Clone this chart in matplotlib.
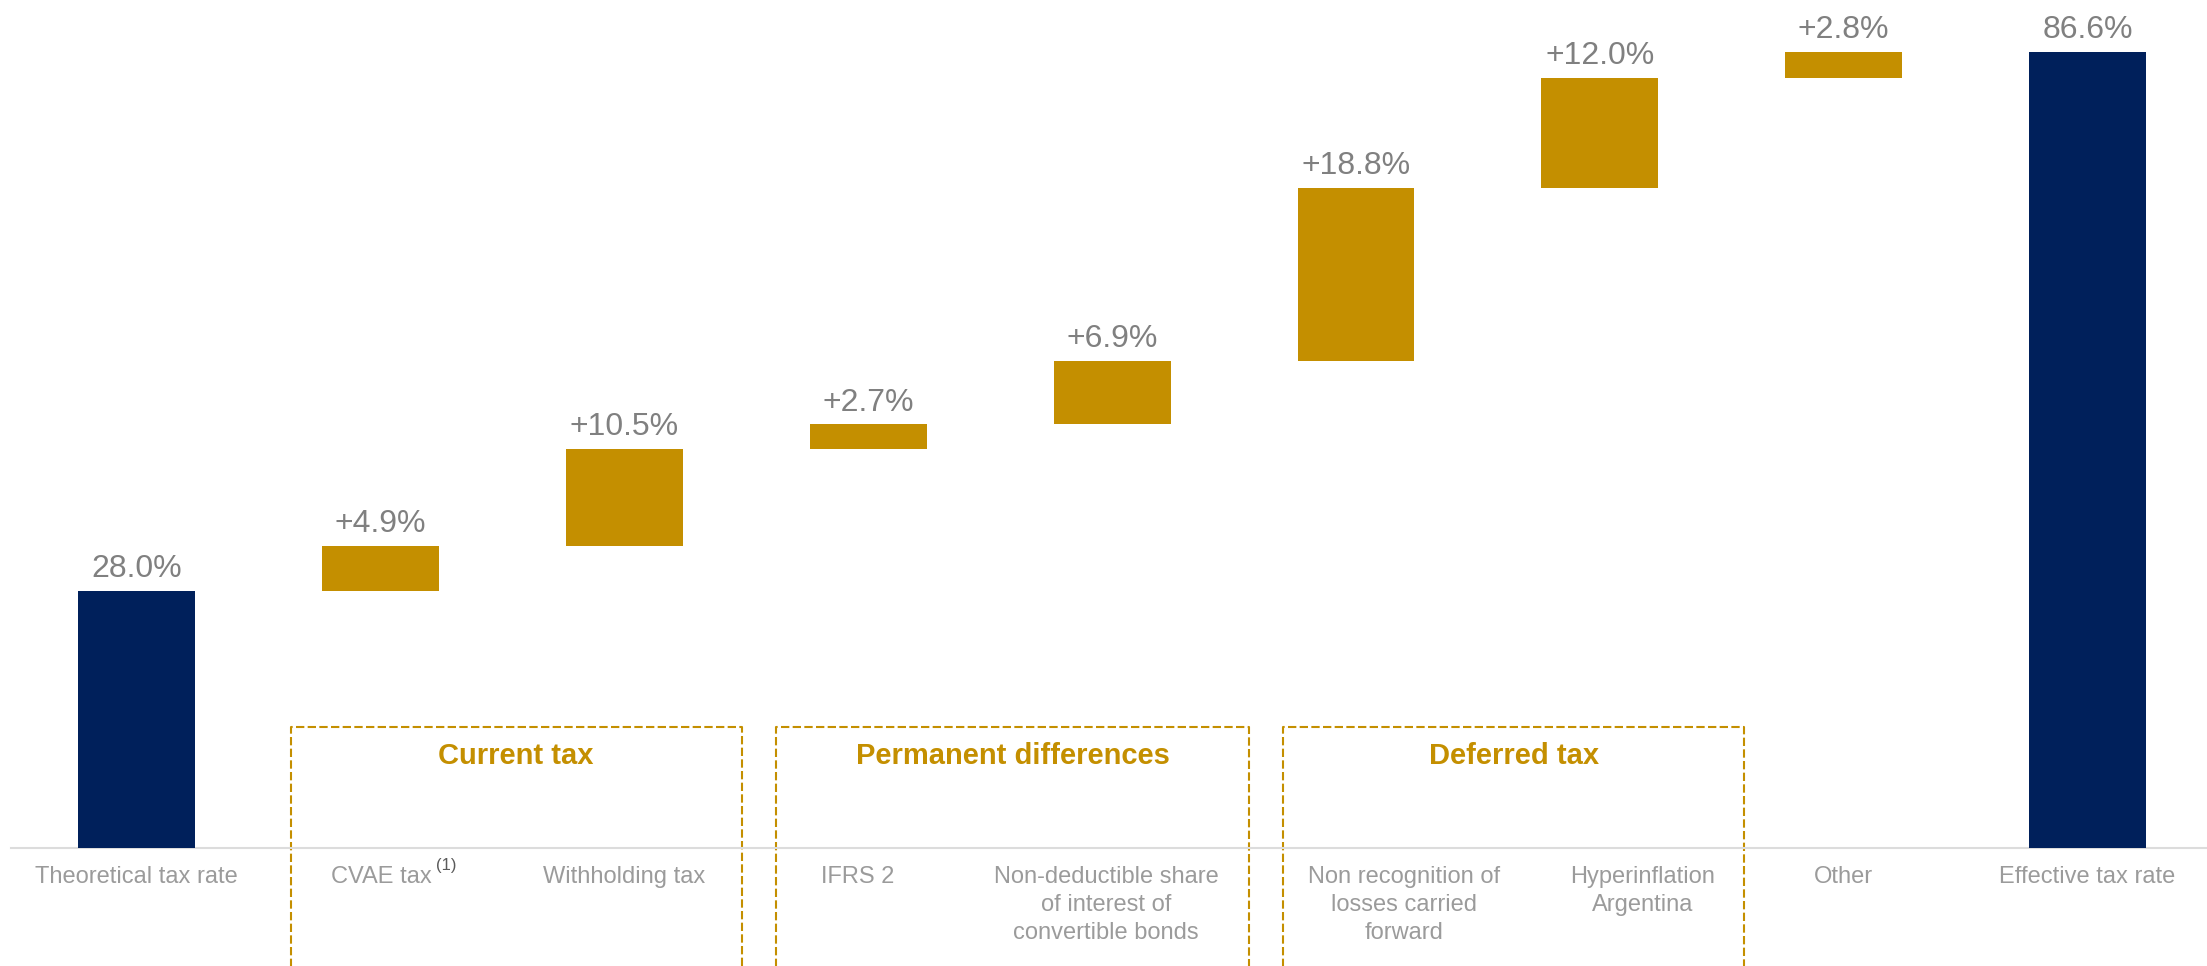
import numpy as np
import matplotlib
matplotlib.use("Agg")
import matplotlib.pyplot as plt

# tax rate bridge: theoretical -> effective
categories = [
    "Theoretical tax rate",
    "CVAE tax",
    "Withholding tax",
    "IFRS 2",
    "Non-deductible share\nof interest of\nconvertible bonds",
    "Non recognition of\nlosses carried\nforward",
    "Hyperinflation\nArgentina",
    "Other",
    "Effective tax rate",
]
values = [28.0, 4.9, 10.5, 2.7, 6.9, 18.8, 12.0, 2.8, 86.6]
is_total = [True, False, False, False, False, False, False, False, True]
value_labels = ["28.0%", "+4.9%", "+10.5%", "+2.7%", "+6.9%",
                "+18.8%", "+12.0%", "+2.8%", "86.6%"]

group_names = ["Current tax", "Permanent differences", "Deferred tax"]
# box edges in x data units (layout)
group_edges = [(0.631, 2.480), (2.623, 4.562), (4.702, 6.592)]
# horizontal nudge of the category labels, in points (layout)
label_dx = [0, 0, 0, -8, -4.5, 34.5, 31, 0, 0]

NAVY = "#00205B"
GOLD = "#C48F00"
VAL_GREY = "#808080"
CAT_GREY = "#9B9B9B"

plt.rcParams["font.family"] = ["Liberation Sans", "DejaVu Sans"]

fig = plt.figure(figsize=(22.07, 9.66), dpi=100)
ax = fig.add_axes([11 / 2207, 118 / 966, 1 - 11 / 2207, 848 / 966])

x = np.arange(len(values))
bottoms = []
running = 0.0
for v, tot in zip(values, is_total):
    if tot:
        bottoms.append(0.0)
        running = v
    else:
        bottoms.append(running)
        running += v
heights = values
colors = [NAVY if t else GOLD for t in is_total]

ax.bar(x, heights, bottom=bottoms, width=0.479, color=colors, zorder=3)

for xi, b, h, lab in zip(x, bottoms, heights, value_labels):
    ax.annotate(lab, (xi, b + h), xytext=(0, 5), textcoords="offset points",
                ha="center", va="bottom", fontsize=23, color=VAL_GREY)

for xi, cat, dx in zip(x, categories, label_dx):
    if cat == "CVAE tax":
        ax.annotate(cat, (xi, 0), xytext=(37, -13), textcoords="offset points",
                    ha="right", va="top", fontsize=17, color=CAT_GREY,
                    annotation_clip=False)
        ax.annotate("(1)", (xi, 0), xytext=(40, -7), textcoords="offset points",
                    ha="left", va="top", fontsize=12, color="#5a5a5a",
                    annotation_clip=False)
    else:
        ax.annotate(cat, (xi, 0), xytext=(dx, -13), textcoords="offset points",
                    ha="center", va="top", fontsize=17, color=CAT_GREY,
                    linespacing=1.35, annotation_clip=False)

# dashed group boxes, open at the bottom
box_top = 13.17
for name, (x0, x1) in zip(group_names, group_edges):
    ax.plot([x0, x0, x1, x1], [-20, box_top, box_top, -20], color=GOLD,
            lw=1.5, linestyle=(0, (4, 1.6)), clip_on=False, zorder=2)
    ax.text((x0 + x1) / 2, 10.0, name, ha="center", va="center",
            fontsize=21, fontweight="bold", color=GOLD)

ax.set_xlim(-0.516, 8.49)
ax.set_ylim(0, 92.3)
for s in ["top", "right", "left"]:
    ax.spines[s].set_visible(False)
ax.spines["bottom"].set_color("#DCDCDC")
ax.spines["bottom"].set_linewidth(1.5)
ax.set_xticks([])
ax.set_yticks([])

fig.savefig("out.png", dpi=100)
